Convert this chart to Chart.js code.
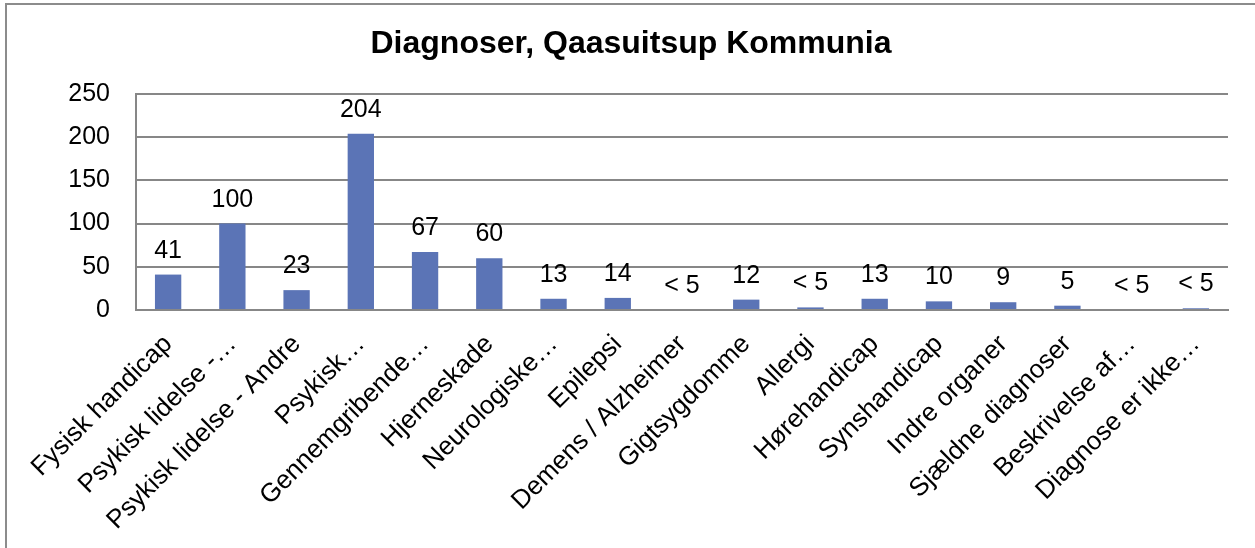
<!DOCTYPE html>
<html>
<head>
<meta charset="utf-8">
<script src="https://cdn.jsdelivr.net/npm/chart.js@4"></script>
<style>
    html, body { margin: 0; padding: 0; background: #fff; overflow: hidden; }
    #frame {
        position: absolute;
        left: 5px; top: 3px;
        width: 1300px; height: 600px;
        border-left: 2px solid #8c8c8c;
        border-top: 2px solid #8c8c8c;
    }
    #wrap { position: absolute; left: 0; top: 0; width: 1255px; height: 548px; }
</style>
</head>
<body>
<div id="frame"></div>
<div id="wrap"><canvas id="diagChart"></canvas></div>
<script>
// Chart data
const chartTitle = 'Diagnoser, Qaasuitsup Kommunia';
const categories = [
    'Fysisk handicap', 'Psykisk lidelse -…', 'Psykisk lidelse - Andre', 'Psykisk…',
    'Gennemgribende…', 'Hjerneskade', 'Neurologiske…', 'Epilepsi',
    'Demens / Alzheimer', 'Gigtsygdomme', 'Allergi', 'Hørehandicap',
    'Synshandicap', 'Indre organer', 'Sjældne diagnoser', 'Beskrivelse af…',
    'Diagnose er ikke…'
];
const counts = [41, 100, 23, 204, 67, 60, 13, 14, 0, 12, 3, 13, 10, 9, 5, 0, 2];
const countLabels = ['41', '100', '23', '204', '67', '60', '13', '14', '< 5', '12', '< 5', '13', '10', '9', '5', '< 5', '< 5'];
const yTicks = [0, 50, 100, 150, 200, 250];

const fontFamily = "'Liberation Sans', Arial, sans-serif";
const gridGray = '#878787';

// Draw the value labels above each bar
const valueLabels = {
    id: 'valueLabels',
    afterDatasetsDraw(chart) {
        const ctx = chart.ctx;
        const meta = chart.getDatasetMeta(0);
        ctx.save();
        ctx.font = '25px ' + fontFamily;
        ctx.fillStyle = '#000';
        ctx.textAlign = 'center';
        ctx.textBaseline = 'alphabetic';
        meta.data.forEach((bar, i) => {
            ctx.fillText(countLabels[i], bar.x, bar.y - 17);
        });
        ctx.restore();
    }
};

// Title is centred on the whole frame, not on the padded chart box
const frameTitle = {
    id: 'frameTitle',
    afterDraw(chart) {
        const ctx = chart.ctx;
        ctx.save();
        ctx.font = 'bold 32px ' + fontFamily;
        ctx.fillStyle = '#000';
        ctx.textAlign = 'center';
        ctx.textBaseline = 'middle';
        ctx.fillText(chartTitle, 631, 44);
        ctx.restore();
    }
};

const ctx = document.getElementById('diagChart').getContext('2d');
new Chart(ctx, {
    type: 'bar',
    data: {
        labels: categories,
        datasets: [{
            data: counts,
            backgroundColor: '#5b74b6',
            borderWidth: 0,
            barPercentage: 0.41,
            categoryPercentage: 1
        }]
    },
    options: {
        responsive: true,
        maintainAspectRatio: false,
        animation: false,
        layout: { padding: { left: 0, right: 27, top: 94, bottom: 0 } },
        plugins: {
            legend: { display: false },
            tooltip: { enabled: false },
            title: { display: false }
        },
        scales: {
            x: {
                grid: { display: false },
                border: { display: true, color: gridGray, width: 2 },
                ticks: {
                    color: '#000',
                    font: { family: fontFamily, size: 26 },
                    minRotation: 45,
                    maxRotation: 45,
                    autoSkip: false,
                    padding: 11
                },
                afterFit(scale) { scale.height = 238; }
            },
            y: {
                min: 0,
                max: 250,
                afterBuildTicks(scale) {
                    scale.ticks = yTicks.map(v => ({ value: v }));
                },
                grid: { color: gridGray, lineWidth: 2, drawTicks: false },
                border: { display: true, color: gridGray, width: 2 },
                ticks: {
                    color: '#000',
                    font: { family: fontFamily, size: 25 },
                    padding: 26
                },
                afterFit(scale) { scale.width = 136; }
            }
        }
    },
    plugins: [valueLabels, frameTitle]
});
</script>
</body>
</html>
